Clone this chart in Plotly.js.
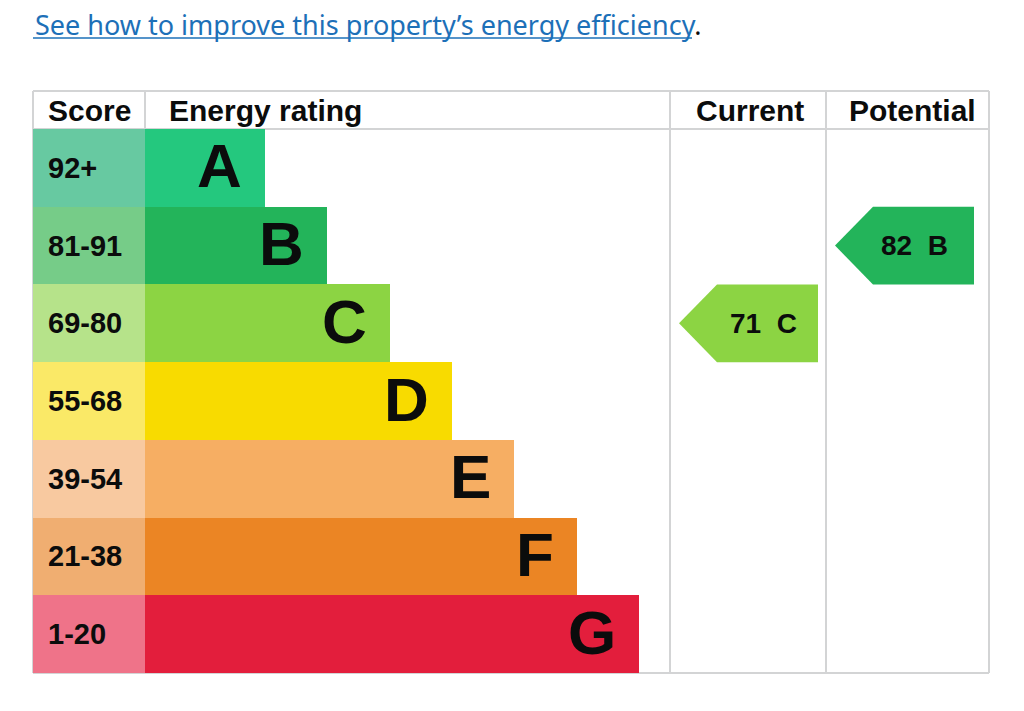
<!DOCTYPE html>
<html>
<head>
<meta charset="utf-8">
<script src="https://cdn.plot.ly/plotly-3.0.1.min.js"></script>
<style>
html,body{margin:0;padding:0;background:#fff;}
#chart{width:1024px;height:711px;}
</style>
</head>
<body>
<div id="chart"></div>
<script>
// ---- data ----
const bands = ['A','B','C','D','E','F','G'];
const scoreRanges = ['92+','81-91','69-80','55-68','39-54','21-38','1-20'];
const bandMin = [92,81,69,55,39,21,1];
const currentScore = 71;
const potentialScore = 82;
const headers = ['Score','Energy rating','Current','Potential'];
const linkText = 'See how to improve this property\u2019s energy efficiency';

// ---- styles ----
const bandColors  = ['#24c87e','#23b45a','#8cd443','#f8db00','#f6ae63','#eb8524','#e31e3c'];
const scoreColors = ['#67c9a1','#76cc88','#b6e38a','#fae967','#f8c9a0','#f0ae71','#ef7389'];
const textColor = '#0b0c0c';
const gridColor = '#d3d4d5';
const boldFont = '"Liberation Sans", Arimo, Arial, Helvetica, sans-serif';

// table geometry (x in px from table left, y in row units)
const colScoreEnd = 112, colRatingEnd = 637, colCurrentEnd = 793, tableEnd = 956;
const barStart = 120, barStep = 62.33;
const headerTop = -0.989, headerBottom = -0.5, tableBottom = 6.5;

function bandIndex(score){
  for (let i=0;i<bandMin.length;i++) if (score >= bandMin[i]) return i;
  return bandMin.length-1;
}

const idx = bands.map((b,i)=>i);

const traces = [];
traces.push({
  type:'bar', orientation:'h', y:idx, x:bands.map(()=>colScoreEnd), base:0, width:1,
  marker:{color:scoreColors, line:{width:0}}, hoverinfo:'skip', showlegend:false
});
traces.push({
  type:'bar', orientation:'h', y:idx, x:bands.map((b,i)=>barStart+barStep*i), base:colScoreEnd, width:1,
  marker:{color:bandColors, line:{width:0}}, hoverinfo:'skip', showlegend:false
});

function arrowTrace(score, colStart){
  const i = bandIndex(score);
  const tip = colStart + 9, shoulder = colStart + 47, right = colStart + 148;
  return {
    type:'scatter', mode:'lines', fill:'toself', fillcolor:bandColors[i],
    line:{width:0, color:bandColors[i]},
    x:[tip, shoulder, right, right, shoulder, tip],
    y:[i, i-0.5, i-0.5, i+0.5, i+0.5, i],
    hoverinfo:'skip', showlegend:false
  };
}
traces.push(arrowTrace(currentScore, colRatingEnd));
traces.push(arrowTrace(potentialScore, colCurrentEnd));

const annotations = [];
// headers
const hdrX = [13, 134, 716.5, 879.5];
const hdrAnchor = ['left','left','center','center'];
headers.forEach((h,k)=>{
  annotations.push({x:hdrX[k], y:(headerTop+headerBottom)/2, text:'<b>'+h+'</b>', showarrow:false,
    xanchor:hdrAnchor[k], yanchor:'middle', font:{family:boldFont, size:30, color:textColor}});
});
// score labels & letters
bands.forEach((b,i)=>{
  annotations.push({x:13, y:i, text:'<b>'+scoreRanges[i]+'</b>', showarrow:false,
    xanchor:'left', yanchor:'middle', font:{family:boldFont, size:29, color:textColor}});
  annotations.push({x:colScoreEnd+barStart+barStep*i-21, y:i, yshift:2, text:'<b>'+b+'</b>', showarrow:false,
    xanchor:'right', yanchor:'middle', font:{family:boldFont, size:62, color:textColor}});
});
// arrow labels
[[currentScore, 730.5],[potentialScore, 881.5]].forEach(([s,x])=>{
  const i = bandIndex(s);
  annotations.push({x:x, y:i, text:'<b>'+s+'&nbsp;&nbsp;'+bands[i]+'</b>', showarrow:false,
    xanchor:'center', yanchor:'middle', font:{family:boldFont, size:28, color:textColor}});
});
// link line
annotations.push({xref:'paper', yref:'paper', x:33/1024, y:1-24/711, text:'<span style="color:#1d70b8">'+linkText+'</span>.',
  showarrow:false, xanchor:'left', yanchor:'middle', font:{family:'"Noto Sans", sans-serif', size:27, color:textColor}});

const shapes = [];
const vline = (x,y0,y1)=>({type:'line', xref:'x', yref:'y', x0:x, x1:x, y0:y0, y1:y1, line:{color:gridColor, width:2}, layer:'below'});
const hline = (y)=>({type:'line', xref:'x', yref:'y', x0:0, x1:tableEnd, y0:y, y1:y, line:{color:gridColor, width:2}, layer:'below'});
shapes.push(hline(headerTop), hline(headerBottom), hline(tableBottom));
[0, colScoreEnd, colRatingEnd, colCurrentEnd, tableEnd].forEach(x=>shapes.push(vline(x, headerTop, tableBottom)));
// underline for link
shapes.push({type:'line', xref:'paper', yref:'paper', x0:33/1024, x1:692/1024, y0:1-38/711, y1:1-38/711,
  line:{color:'#1d70b8', width:1.5}});

const layout = {
  width:1024, height:711,
  margin:{l:0,r:0,t:0,b:0},
  paper_bgcolor:'#fff', plot_bgcolor:'#fff',
  barmode:'overlay', bargap:0,
  xaxis:{range:[-33, 991], showgrid:false, zeroline:false, showticklabels:false, showline:false, fixedrange:true},
  yaxis:{range:[6.989, -2.160], showgrid:false, zeroline:false, showticklabels:false, showline:false, fixedrange:true},
  showlegend:false,
  annotations:annotations,
  shapes:shapes
};

Plotly.newPlot('chart', traces, layout, {displayModeBar:false, staticPlot:true});
</script>
</body>
</html>
